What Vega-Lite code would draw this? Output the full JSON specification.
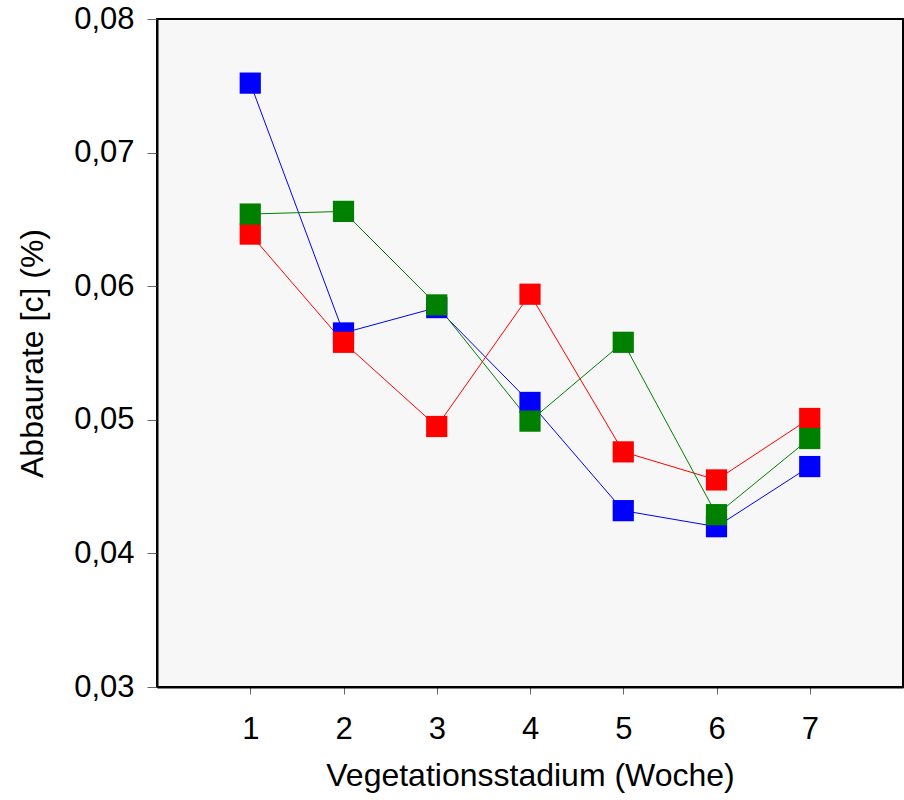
{
  "$schema": "https://vega.github.io/schema/vega-lite/v6.json",
  "width": 746,
  "height": 668,
  "autosize": {"type": "none"},
  "padding": {"left": 157, "top": 19, "right": 1, "bottom": 113},
  "background": "white",
  "config": {
    "view": {"fill": "#f7f7f7", "stroke": "#000000", "strokeWidth": 2},
    "font": "Liberation Sans"
  },
  "data": {
    "values": [
      {"woche": 1, "serie": "a", "wert": 0.0752},
      {"woche": 2, "serie": "a", "wert": 0.0565},
      {"woche": 3, "serie": "a", "wert": 0.0584},
      {"woche": 4, "serie": "a", "wert": 0.0513},
      {"woche": 5, "serie": "a", "wert": 0.0432},
      {"woche": 6, "serie": "a", "wert": 0.0420},
      {"woche": 7, "serie": "a", "wert": 0.0465},
      {"woche": 1, "serie": "b", "wert": 0.0639},
      {"woche": 2, "serie": "b", "wert": 0.0558},
      {"woche": 3, "serie": "b", "wert": 0.0495},
      {"woche": 4, "serie": "b", "wert": 0.0594},
      {"woche": 5, "serie": "b", "wert": 0.0476},
      {"woche": 6, "serie": "b", "wert": 0.0455},
      {"woche": 7, "serie": "b", "wert": 0.0501},
      {"woche": 1, "serie": "c", "wert": 0.0654},
      {"woche": 2, "serie": "c", "wert": 0.0656},
      {"woche": 3, "serie": "c", "wert": 0.0586},
      {"woche": 4, "serie": "c", "wert": 0.0499},
      {"woche": 5, "serie": "c", "wert": 0.0558},
      {"woche": 6, "serie": "c", "wert": 0.0429},
      {"woche": 7, "serie": "c", "wert": 0.0486}
    ]
  },
  "encoding": {
    "x": {
      "field": "woche",
      "type": "quantitative",
      "scale": {"domain": [0, 8], "nice": false, "zero": false},
      "axis": {
        "title": "Vegetationsstadium (Woche)",
        "values": [1, 2, 3, 4, 5, 6, 7],
        "grid": false,
        "domainColor": "#000000",
        "domainWidth": 2,
        "tickColor": "#666666",
        "tickWidth": 1,
        "tickSize": 7,
        "labelFontSize": 31,
        "labelColor": "#000000",
        "labelPadding": 20,
        "titleFontSize": 32,
        "titleFontWeight": "normal",
        "titleColor": "#000000",
        "titlePadding": 16
      }
    },
    "y": {
      "field": "wert",
      "type": "quantitative",
      "scale": {"domain": [0.03, 0.08], "nice": false, "zero": false},
      "axis": {
        "title": "Abbaurate [c] (%)",
        "values": [0.03, 0.04, 0.05, 0.06, 0.07, 0.08],
        "labelExpr": "replace(format(datum.value, '.2f'), '.', ',')",
        "grid": false,
        "domainColor": "#000000",
        "domainWidth": 2,
        "tickColor": "#666666",
        "tickWidth": 1,
        "tickSize": 10,
        "labelFontSize": 31,
        "labelColor": "#000000",
        "labelPadding": 13,
        "titleFontSize": 32,
        "titleFontWeight": "normal",
        "titleColor": "#000000",
        "titlePadding": 24
      }
    },
    "color": {
      "field": "serie",
      "type": "nominal",
      "scale": {"domain": ["a", "b", "c"], "range": ["#0000ff", "#ff0000", "#008000"]},
      "legend": null
    }
  },
  "layer": [
    {"mark": {"type": "line", "strokeWidth": 1}},
    {"mark": {"type": "point", "shape": "square", "filled": true, "size": 450, "opacity": 1, "strokeWidth": 0}}
  ]
}
